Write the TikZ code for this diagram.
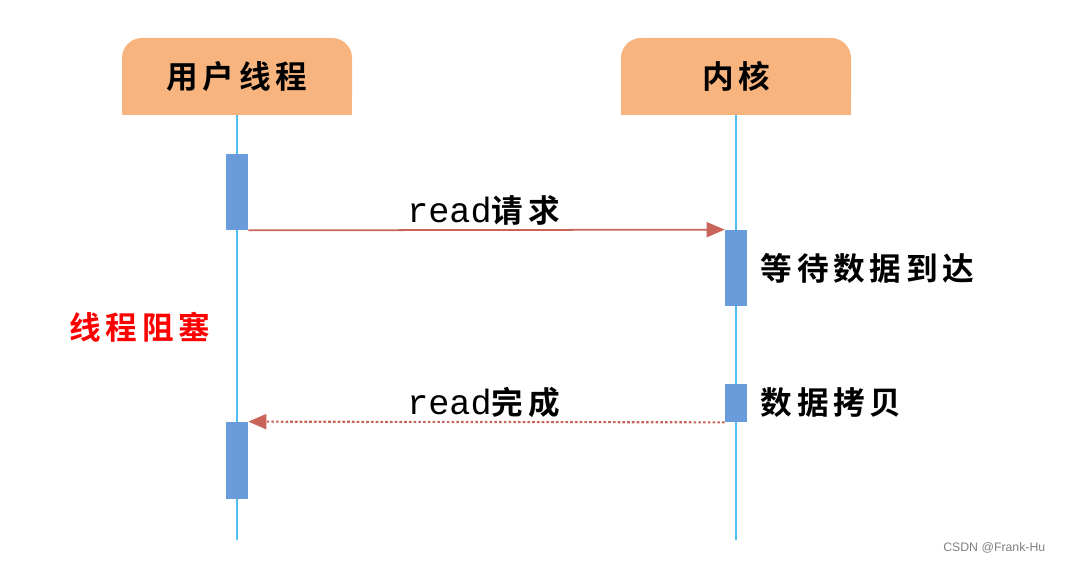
\documentclass[tikz,border=0pt]{standalone}
\usepackage{fontspec}
\setmainfont{Liberation Sans}
\newfontfamily\cjk{Noto Sans CJK SC}[LetterSpace=15,BoldFont={Noto Sans CJK SC Bold}]
\newfontfamily\mono{Liberation Mono}
\usepackage{tikz}
\usetikzlibrary{positioning,arrows.meta}

\definecolor{hdrfill}{RGB}{248,180,126}
\definecolor{lifeblue}{RGB}{80,190,240}
\definecolor{barblue}{RGB}{106,155,218}
\definecolor{msgred}{RGB}{200,100,90}

\newcommand\readtxt{{\mono\mdseries\fontsize{20}{22}\selectfont read}}

\begin{document}
\begin{tikzpicture}[
    hdr/.style={fill=hdrfill, rounded corners=0.4cm, minimum width=4.6cm, minimum height=1.54cm,
      font=\cjk\bfseries\fontsize{18}{20}\selectfont},
    life/.style={draw=lifeblue, line width=1.2pt},
    bar/.style={fill=barblue, minimum width=0.44cm, inner sep=0pt},
    msg/.style={draw=msgred, line width=1pt, -{Triangle[length=0.36cm,width=0.3cm]}},
    lbl/.style={font=\cjk\bfseries\fontsize{18}{20}\selectfont, inner sep=0pt}]
  \useasboundingbox (0,0) rectangle (21.3,11.28);

  % lifeline heads
  \node[hdr] (user) at (4.74,9.75) {用户线程};
  \node[hdr] (kern) at (14.72,9.75) {内核};
  \fill[hdrfill] (user.south west) rectangle ([yshift=0.4cm]user.south east);
  \fill[hdrfill] (kern.south west) rectangle ([yshift=0.4cm]kern.south east);

  \coordinate (userEnd) at (4.74,0.48);
  \coordinate (kernEnd) at (14.72,0.48);
  \draw[life] (user.south) -- (userEnd);
  \draw[life] (kern.south) -- (kernEnd);

  % activation bars
  \def\actBar#1#2#3{
    \node[bar, minimum height=#3] (#1) at (#2) {};
  }
  \actBar{reqBar}{4.74,7.44}{1.52cm}
  \actBar{waitBar}{14.72,5.92}{1.52cm}
  \actBar{copyBar}{14.72,3.22}{0.76cm}
  \actBar{doneBar}{4.74,2.07}{1.54cm}

  % messages
  \draw[msg] (reqBar.south east) -- node[lbl, above=0.07cm, xshift=-0.06cm] {\readtxt 请求} (waitBar.north west);
  \draw[msg, line width=1.2pt, dash pattern=on 1.5pt off 1.2pt] (copyBar.south west)
    -- node[lbl, above=0.07cm, xshift=-0.06cm] {\readtxt 完成} (doneBar.north east);

  \node[lbl, right=0.26cm of waitBar] (waitTxt) {等待数据到达};
  \node[lbl, right=0.26cm of copyBar] (copyTxt) {数据拷贝};
  \node[lbl, text=red] (block) at (2.8,4.74) {线程阻塞};

  \node[font=\fontsize{7}{8}\selectfont, text=gray, anchor=east] (mark) at (21.03,0.32) {CSDN @Frank-Hu};
\end{tikzpicture}
\end{document}
